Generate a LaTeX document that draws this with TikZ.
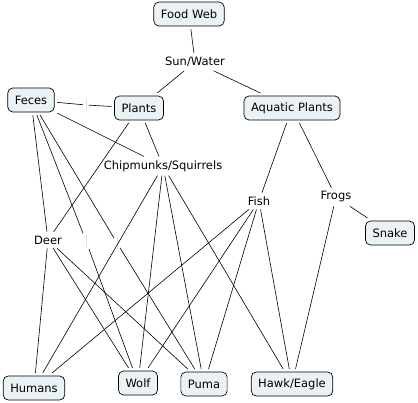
\documentclass[tikz,border=0pt]{standalone}
\usepackage{fontspec}
\setmainfont{DejaVu Sans}
\definecolor{cfill}{RGB}{235,242,245}
\begin{document}
\begin{tikzpicture}[
  x=1pt, y=-1pt,
  every node/.style={font=\fontsize{11.5}{13}\selectfont},
  concept/.style={draw, rounded corners=5pt, fill=cfill, minimum height=24pt, inner xsep=7pt, inner ysep=2pt, outer sep=3pt, line width=0.7pt},
  link/.style={inner sep=1pt, outer sep=3pt},
  blank/.style={minimum width=2pt, minimum height=14pt, inner sep=0pt, outer sep=2pt},
  wire/.style={draw, line width=0.6pt}
]
\useasboundingbox (0,0) rectangle (418,402);
\node[concept] (food) at (189,14) {Food Web};
\node[link] (sun) at (195,62) {Sun/Water};
\node[concept] (feces) at (31,100) {Feces};
\node[concept] (plants) at (139,108) {Plants};
\node[concept] (aqua) at (292,108) {Aquatic Plants};
\node[link] (chip) at (163,166) {Chipmunks/Squirrels};
\node[link] (fish) at (259,201) {Fish};
\node[link] (frogs) at (336,197) {Frogs};
\node[concept] (snake) at (390,233) {Snake};
\node[link] (deer) at (48,240) {Deer};
\node[blank] (e1) at (86,105) {\color{gray!25}\rule{0.6pt}{12pt}};
\node[blank] (e2) at (86,241) {\color{gray!25}\rule{0.6pt}{12pt}};
\node[blank] (e3) at (117,243) {\color{gray!25}\rule{0.6pt}{12pt}};
\node[concept] (humans) at (34,388) {Humans};
\node[concept] (wolf) at (138,383) {Wolf};
\node[concept] (puma) at (204,384) {Puma};
\node[concept] (hawk) at (292,384) {Hawk/Eagle};
\foreach \a/\b in {food/sun, sun/plants, sun/aqua, feces/e1, e1/plants,
  feces/chip, feces/deer, feces/e2, e2/wolf, feces/e3, e3/puma,
  plants/deer, plants/chip, chip/humans, chip/wolf, chip/puma, chip/hawk,
  deer/humans, deer/wolf, deer/puma, aqua/fish, aqua/frogs, frogs/snake,
  frogs/hawk, fish/hawk, fish/humans, fish/wolf, fish/puma}
  \draw[wire] (\a) -- (\b);
\end{tikzpicture}
\end{document}
